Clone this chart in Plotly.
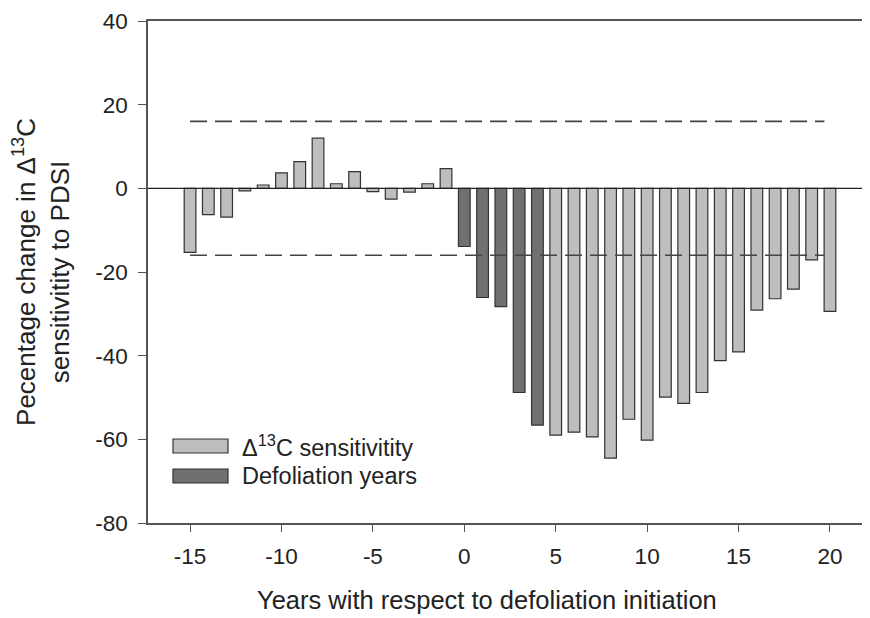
import plotly.graph_objects as go

years = list(range(-15, 21))
values = [-15.3, -6.3, -6.9, -0.6, 0.8, 3.7, 6.4, 12.0, 1.1, 4.0, -0.8, -2.6, -0.9, 1.1, 4.7,
          -13.9, -26.1, -28.3, -48.8, -56.6,
          -59.0, -58.3, -59.4, -64.5, -55.2, -60.2, -49.9, -51.4, -48.8, -41.2, -39.1,
          -29.1, -26.4, -24.1, -17.1, -29.4]
defol_years = [0, 1, 2, 3, 4]
threshold = 16
thr_x = [-15, 19.7]
x_ticks = [-15, -10, -5, 0, 5, 10, 15, 20]
x_ticklabels = ["-15", "-10", "-5", "0", "5", "10", "15", "20"]
y_ticks = [-80, -60, -40, -20, 0, 20, 40]
y_ticklabels = ["-80", "-60", "-40", "-20", "0", "20", "40"]

light = "#bebebe"
dark = "#707070"
edge = "#333333"
FONT = "Liberation Sans, Arial, sans-serif"

sens_x = [y for y in years if y not in defol_years]
sens_v = [v for y, v in zip(years, values) if y not in defol_years]
def_x = [y for y in years if y in defol_years]
def_v = [v for y, v in zip(years, values) if y in defol_years]

fig = go.Figure()
fig.add_trace(go.Bar(x=sens_x, y=sens_v, width=0.64, marker=dict(color=light, line=dict(color=edge, width=1.2)),
                     name="Δ13C sensitivitity", showlegend=False))
fig.add_trace(go.Bar(x=def_x, y=def_v, width=0.64, marker=dict(color=dark, line=dict(color=edge, width=1.2)),
                     name="Defoliation years", showlegend=False))
for s in (threshold, -threshold):
    fig.add_trace(go.Scatter(x=thr_x, y=[s, s], mode="lines", showlegend=False,
                             line=dict(color="#444444", width=1.6, dash="17px,8px"), hoverinfo="skip"))

fig.add_shape(type="line", xref="paper", yref="y", x0=0, x1=1, y0=0, y1=0,
              line=dict(color="#222222", width=1.2))

# page offset of the figure inside the browser (default body margin)
OFF = 8
TOP = 21
L, T = 148 - OFF, TOP - OFF
PW = 870 - 148
PH = 523 - TOP

# legend drawn manually (wide swatches)
leg = [("Δ<sup>13</sup>C sensitivitity", light, 446), ("Defoliation years", dark, 476)]
for label, col, yc in leg:
    fig.add_shape(type="rect", xref="paper", yref="paper",
                  x0=(173 - 148) / PW, x1=(228 - 148) / PW,
                  y0=(523 - (yc + 7)) / PH, y1=(523 - (yc - 7)) / PH,
                  fillcolor=col, line=dict(color=edge, width=1.2))
    fig.add_annotation(text=label, xref="paper", yref="paper", x=(240 - 148) / PW,
                       y=(523 - yc) / PH, xanchor="left", yanchor="middle", showarrow=False,
                       font=dict(family=FONT, size=23.5, color="#222222"))

# x-axis title
fig.add_annotation(text="Years with respect to defoliation initiation", xref="paper", yref="paper",
                   x=(487 - 148) / PW, y=(523 - 600) / PH, xanchor="center", yanchor="middle",
                   showarrow=False, font=dict(family=FONT, size=25.5, color="#222222"))

fig.update_layout(
    width=870 - OFF, height=618 - OFF,
    margin=dict(l=L, r=0, t=T, b=618 - 523),
    plot_bgcolor="white", paper_bgcolor="white",
    font=dict(family=FONT, size=22.5, color="#222222"),
    xaxis=dict(range=[-17.3, 22.19], tickvals=x_ticks, ticktext=x_ticklabels,
               showline=True, mirror=True, linecolor="#555555", linewidth=1.5,
               ticks="outside", ticklen=7, tickcolor="#555555", tickwidth=1.3,
               ticklabelstandoff=5, ticklabeloverflow="allow", automargin=False,
               showgrid=False, zeroline=False),
    yaxis=dict(range=[-80, 40], tickvals=y_ticks, ticktext=y_ticklabels,
               showline=True, linecolor="#555555", linewidth=1.5,
               ticks="outside", ticklen=8, tickcolor="#555555", tickwidth=1.3,
               ticklabelstandoff=6, ticklabeloverflow="allow", automargin=False,
               showgrid=False, zeroline=False,
               title=dict(text="Pecentage change in Δ<sup>13</sup>C<br>sensitivitity to PDSI", font=dict(size=26), standoff=26)),
)

fig.write_html("out.html")
